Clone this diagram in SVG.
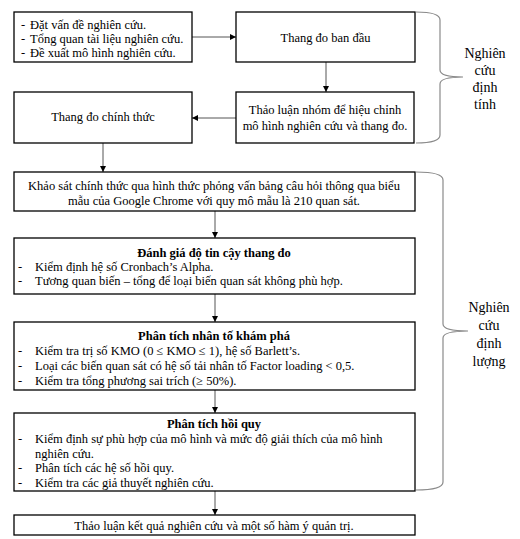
<svg xmlns="http://www.w3.org/2000/svg" width="520" height="539" viewBox="0 0 520 539">
<defs>
<marker id="ah" viewBox="0 0 10 10" refX="10" refY="5" markerWidth="6" markerHeight="6" markerUnits="userSpaceOnUse" orient="auto">
<path d="M0,0 L10,5 L0,10 z" fill="#000"/>
</marker>
<style>
.box{fill:#fff;stroke:#000;stroke-width:1.3}
.t{font-family:"Liberation Serif","Times New Roman",serif;font-size:12.5px;fill:#000}
.c{text-anchor:middle}
.b{font-weight:bold}
.lab{font-family:"Liberation Serif","Times New Roman",serif;font-size:14px;fill:#000;text-anchor:middle}
.con{fill:none;stroke:#555;stroke-width:1;marker-end:url(#ah)}
.brace{fill:none;stroke:#8a8a8a;stroke-width:1.2}
</style>
</defs>
<rect width="520" height="539" fill="#fff"/>

<g id="connectors">
<line class="con" x1="192" y1="37" x2="236" y2="37"/>
<line class="con" x1="326" y1="62" x2="326" y2="92"/>
<line class="con" x1="236" y1="118" x2="192" y2="118"/>
<line class="con" x1="103" y1="143" x2="103" y2="172"/>
<line class="con" x1="215" y1="211" x2="215" y2="238"/>
<line class="con" x1="215" y1="294" x2="215" y2="322"/>
<line class="con" x1="215" y1="390" x2="215" y2="413"/>
<line class="con" x1="215" y1="491" x2="215" y2="515"/>
</g>

<g id="n1">
<rect class="box" x="14" y="12" width="178" height="50"/>
<text class="t" x="21" y="29">-</text><text class="t" x="30" y="29">Đặt vấn đề nghiên cứu.</text>
<text class="t" x="21" y="43">-</text><text class="t" x="30" y="43">Tổng quan tài liệu nghiên cứu.</text>
<text class="t" x="21" y="57">-</text><text class="t" x="30" y="57">Đề xuất mô hình nghiên cứu.</text>
</g>

<g id="n2">
<rect class="box" x="236" y="12" width="179" height="50"/>
<text class="t c" x="325.5" y="42">Thang đo ban đầu</text>
</g>

<g id="n3">
<rect class="box" x="236" y="92" width="178" height="51"/>
<text class="t c" x="325" y="114">Thảo luận nhóm để hiệu chỉnh</text>
<text class="t c" x="325" y="130">mô hình nghiên cứu và thang đo.</text>
</g>

<g id="n4">
<rect class="box" x="14" y="92" width="178" height="51"/>
<text class="t c" x="103" y="121">Thang đo chính thức</text>
</g>

<g id="n5">
<rect class="box" x="14" y="172" width="401" height="39"/>
<text class="t c" x="214" y="189.5">Khảo sát chính thức qua hình thức phỏng vấn bảng câu hỏi thông qua biểu</text>
<text class="t c" x="214" y="205">mẫu của Google Chrome với quy mô mẫu là 210 quan sát.</text>
</g>

<g id="n6">
<rect class="box" x="14" y="238" width="401" height="56"/>
<text class="t c b" x="214" y="257">Đánh giá độ tin cậy thang đo</text>
<text class="t" x="18" y="271">-</text><text class="t" x="35" y="271">Kiểm định hệ số Cronbach’s Alpha.</text>
<text class="t" x="18" y="285">-</text><text class="t" x="35" y="285">Tương quan biến – tổng để loại biến quan sát không phù hợp.</text>
</g>

<g id="n7">
<rect class="box" x="14" y="322" width="401" height="68"/>
<text class="t c b" x="214" y="339.5">Phân tích nhân tố khám phá</text>
<text class="t" x="18" y="355">-</text><text class="t" x="35" y="355">Kiểm tra trị số KMO (0 ≤ KMO ≤ 1), hệ số Barlett’s.</text>
<text class="t" x="18" y="370">-</text><text class="t" x="35" y="370">Loại các biến quan sát có hệ số tải nhân tố Factor loading &lt; 0,5.</text>
<text class="t" x="18" y="384.5">-</text><text class="t" x="35" y="384.5">Kiểm tra tổng phương sai trích (≥ 50%).</text>
</g>

<g id="n8">
<rect class="box" x="14" y="413" width="401" height="78"/>
<text class="t c b" x="214" y="428">Phân tích hồi quy</text>
<text class="t" x="18" y="443">-</text><text class="t" x="35" y="443">Kiểm định sự phù hợp của mô hình và mức độ giải  thích của mô hình</text>
<text class="t" x="35" y="457.5">nghiên cứu.</text>
<text class="t" x="18" y="472">-</text><text class="t" x="35" y="472">Phân tích các hệ số hồi quy.</text>
<text class="t" x="18" y="487">-</text><text class="t" x="35" y="487">Kiểm tra các giả thuyết nghiên cứu.</text>
</g>

<g id="n9">
<rect class="box" x="14" y="515" width="401" height="20"/>
<text class="t c" x="214" y="530">Thảo luận kết quả nghiên cứu và một số hàm ý quản trị.</text>
</g>

<g id="brace1">
<path class="brace" d="M416,12 Q440,12 440,20 L440,70 Q440,77 463,77 Q440,77 440,84 L440,135 Q440,143 416,143"/>
<text class="lab" x="485" y="58">Nghiên</text>
<text class="lab" x="485" y="75">cứu</text>
<text class="lab" x="485" y="92">định</text>
<text class="lab" x="485" y="109">tính</text>
</g>

<g id="brace2">
<path class="brace" d="M416,172 Q443,172 443,180 L443,324 Q443,331 468,331 Q443,331 443,338 L443,482 Q443,490 416,490"/>
<text class="lab" x="489" y="312">Nghiên</text>
<text class="lab" x="489" y="330">cứu</text>
<text class="lab" x="489" y="348">định</text>
<text class="lab" x="489" y="366">lượng</text>
</g>
</svg>
